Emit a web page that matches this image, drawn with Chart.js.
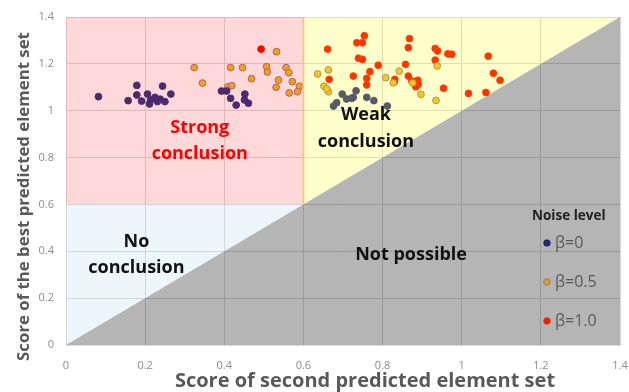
<!DOCTYPE html>
<html>
<head>
<meta charset="utf-8">
<script src="https://cdn.jsdelivr.net/npm/chart.js@4/dist/chart.umd.min.js"></script>
<style>
html,body{margin:0;padding:0;background:#fff;}
#wrap{width:629px;height:392px;}
</style>
</head>
<body>
<div id="wrap"><canvas id="c" width="629" height="392"></canvas></div>
<script>
// ---- data ----
const seriesLabels = ["β=0", "β=0.5", "β=1.0"];
const legendTitle = "Noise level";
const xTitle = "Score of second predicted element set";
const yTitle = "Score of the best predicted element set";
const tickLabels = ["0", "0.2", "0.4", "0.6", "0.8", "1", "1.2", "1.4"];
const tickValues = [0, 0.2, 0.4, 0.6, 0.8, 1.0, 1.2, 1.4];
const regionLabels = [["Strong", "conclusion"], ["Weak", "conclusion"], ["No", "conclusion"], ["Not possible"]];

const beta0X = [0.082,0.157,0.179,0.179,0.191,0.206,0.211,0.214,0.225,0.231,0.238,0.244,0.250,0.265,0.393,0.406,0.416,0.430,0.452,0.451,0.461,
  0.676,0.684,0.698,0.709,0.722,0.733,0.726,0.760,0.778,0.812];
const beta0Y = [1.060,1.043,1.108,1.067,1.041,1.071,1.029,1.046,1.057,1.039,1.049,1.105,1.039,1.071,1.084,1.084,1.053,1.024,1.071,1.046,1.032,
  1.020,1.034,1.071,1.050,1.053,1.085,1.057,1.057,1.043,1.020];

const beta05X = [0.324,0.345,0.409,0.419,0.416,0.446,0.469,0.507,0.509,0.532,0.537,0.531,0.556,0.563,0.572,0.590,0.585,0.564,
  0.636,0.663,0.652,0.663,0.659,0.808,0.842,0.827,0.876,0.897,0.938,0.935];
const beta05Y = [1.184,1.118,1.102,1.107,1.184,1.184,1.137,1.188,1.165,1.252,1.131,1.100,1.184,1.162,1.124,1.104,1.081,1.076,
  1.157,1.174,1.105,1.081,1.093,1.141,1.169,1.119,1.119,1.070,1.191,1.044];

const beta1X = [0.493,0.661,0.735,0.749,0.754,0.739,0.749,0.665,0.726,0.768,0.789,0.760,0.760,0.831,0.830,0.858,0.865,0.868,0.865,0.874,0.882,0.889,0.890,0.884,0.933,0.939,0.933,0.965,0.975,0.954,1.017,1.061,1.067,1.080,1.097];
const beta1Y = [1.263,1.263,1.290,1.290,1.320,1.224,1.219,1.134,1.148,1.167,1.194,1.138,1.110,1.134,1.124,1.198,1.148,1.308,1.269,1.127,1.113,1.130,1.113,1.102,1.266,1.255,1.216,1.243,1.241,1.096,1.074,1.078,1.233,1.160,1.130];

function pts(xs, ys){ return xs.map((x,i)=>({x:x, y:ys[i]})); }

const FONT = "'Open Sans', 'Liberation Sans', sans-serif";

// regions overlay plugin
const regionsPlugin = {
  id: 'regions',
  afterDatasetsDraw(chart){
    const {ctx, chartArea:a, scales:{x, y}} = chart;
    const X = v => x.getPixelForValue(v), Y = v => y.getPixelForValue(v);
    ctx.save();
    ctx.beginPath(); ctx.rect(a.left, a.top, a.right-a.left, a.bottom-a.top); ctx.clip();
    ctx.fillStyle = 'rgba(255,0,0,0.15)';
    ctx.fillRect(X(0), Y(1.4), X(0.6)-X(0), Y(0.6)-Y(1.4));
    ctx.fillStyle = 'rgba(255,255,0,0.2)';
    ctx.beginPath(); ctx.moveTo(X(0.6), Y(1.4)); ctx.lineTo(X(1.4), Y(1.4)); ctx.lineTo(X(0.6), Y(0.6)); ctx.closePath(); ctx.fill();
    ctx.fillStyle = 'rgba(173,216,230,0.22)';
    ctx.beginPath(); ctx.moveTo(X(0), Y(0)); ctx.lineTo(X(0), Y(0.6)); ctx.lineTo(X(0.6), Y(0.6)); ctx.closePath(); ctx.fill();
    ctx.fillStyle = 'rgba(0,0,0,0.29)';
    ctx.beginPath(); ctx.moveTo(X(0), Y(0)); ctx.lineTo(X(1.4), Y(1.4)); ctx.lineTo(X(1.4), Y(0)); ctx.closePath(); ctx.fill();
    ctx.strokeStyle = 'rgba(248,195,130,0.9)';
    ctx.lineWidth = 2;
    ctx.beginPath(); ctx.moveTo(X(0.6), Y(1.4)); ctx.lineTo(X(0.6), Y(0.6)); ctx.stroke();
    ctx.restore();

    // region labels
    ctx.save();
    ctx.textAlign = 'center'; ctx.textBaseline = 'middle';
    ctx.font = "bold 18px " + FONT;
    const put = (lines, cx, cy, color, lh) => {
      ctx.fillStyle = color;
      lines.forEach((t,i)=>ctx.fillText(t, cx, cy + i*lh));
    };
    put(regionLabels[0], X(0.338), Y(0.927), '#ff0000', 26);
    put(regionLabels[1], X(0.758), Y(0.982), '#111111', 27);
    put(regionLabels[2], X(0.178), Y(0.44), '#111111', 26);
    put(regionLabels[3], X(0.872), Y(0.384), '#111111', 27);
    ctx.restore();

    // legend
    ctx.save();
    ctx.font = "bold 13.5px " + FONT;
    ctx.fillStyle = '#222'; ctx.textAlign = 'left'; ctx.textBaseline = 'middle';
    ctx.fillText(legendTitle, 532, 216);
    const cols = ['#1f2a6e', '#d9a21b', '#e8230a'];
    const borders = ['#1f2a6e', '#8a6a8a', '#e8230a'];
    const ys = [243, 282, 321];
    ctx.font = "16px " + FONT;
    chart.data.datasets.forEach((ds,i)=>{
      ctx.beginPath(); ctx.arc(547, ys[i], 3.3, 0, Math.PI*2);
      ctx.fillStyle = cols[i]; ctx.fill();
      ctx.lineWidth = 0.8; ctx.strokeStyle = borders[i]; ctx.stroke();
      ctx.fillStyle = '#595959';
      ctx.fillText(ds.label, 555, ys[i]);
    });
    ctx.restore();

    // axis titles
    ctx.save();
    ctx.fillStyle = '#595959'; ctx.textAlign = 'center'; ctx.textBaseline = 'middle';
    ctx.font = "bold 20px " + FONT;
    ctx.fillText(xTitle, 365, 381);
    ctx.translate(24, 196.5); ctx.rotate(-Math.PI/2);
    ctx.font = "bold 16.8px " + FONT;
    ctx.fillText(yTitle, 0, 0);
    ctx.restore();
  }
};

new Chart(document.getElementById('c'), {
  type: 'scatter',
  data: {
    datasets: [
      {label: seriesLabels[0], data: pts(beta0X, beta0Y), backgroundColor: 'rgb(45,50,130)', borderColor: 'rgb(45,50,130)', borderWidth: 1, pointRadius: 3.4},
      {label: seriesLabels[1], data: pts(beta05X, beta05Y), backgroundColor: 'rgb(250,185,20)', borderColor: 'rgb(140,120,150)', borderWidth: 1, pointRadius: 3.4},
      {label: seriesLabels[2], data: pts(beta1X, beta1Y), backgroundColor: 'rgb(255,0,0)', borderColor: 'rgb(255,20,0)', borderWidth: 1, pointRadius: 3.4}
    ]
  },
  options: {
    responsive: false,
    animation: false,
    devicePixelRatio: 1,
    layout: {padding: {top: 17, right: 9, left: 0, bottom: 0}},
    plugins: {legend: {display: false}, tooltip: {enabled: false}},
    scales: {
      x: {
        type: 'linear', min: 0, max: 1.4,
        afterBuildTicks: s => { s.ticks = tickValues.map(v=>({value:v})); },
        afterFit: s => { s.height = 47; s.paddingRight = 0; s.paddingLeft = 0; },
        grid: {color: '#d9d9d9', drawTicks: false, lineWidth: 1},
        border: {color: '#d9d9d9'},
        ticks: {padding: 14, color: '#8c8c8c', font: {family: FONT, size: 11}, callback: (v, i) => tickLabels[i]},
        title: {display: false}
      },
      y: {
        type: 'linear', min: 0, max: 1.4,
        afterBuildTicks: s => { s.ticks = tickValues.map(v=>({value:v})); },
        afterFit: s => { s.width = 66; s.paddingTop = 0; s.paddingBottom = 0; },
        grid: {color: '#d9d9d9', drawTicks: false, lineWidth: 1},
        border: {color: '#d9d9d9'},
        ticks: {padding: 12, color: '#8c8c8c', font: {family: FONT, size: 11}, callback: (v, i) => tickLabels[i]},
        title: {display: false}
      }
    }
  },
  plugins: [regionsPlugin]
});
</script>
</body>
</html>
